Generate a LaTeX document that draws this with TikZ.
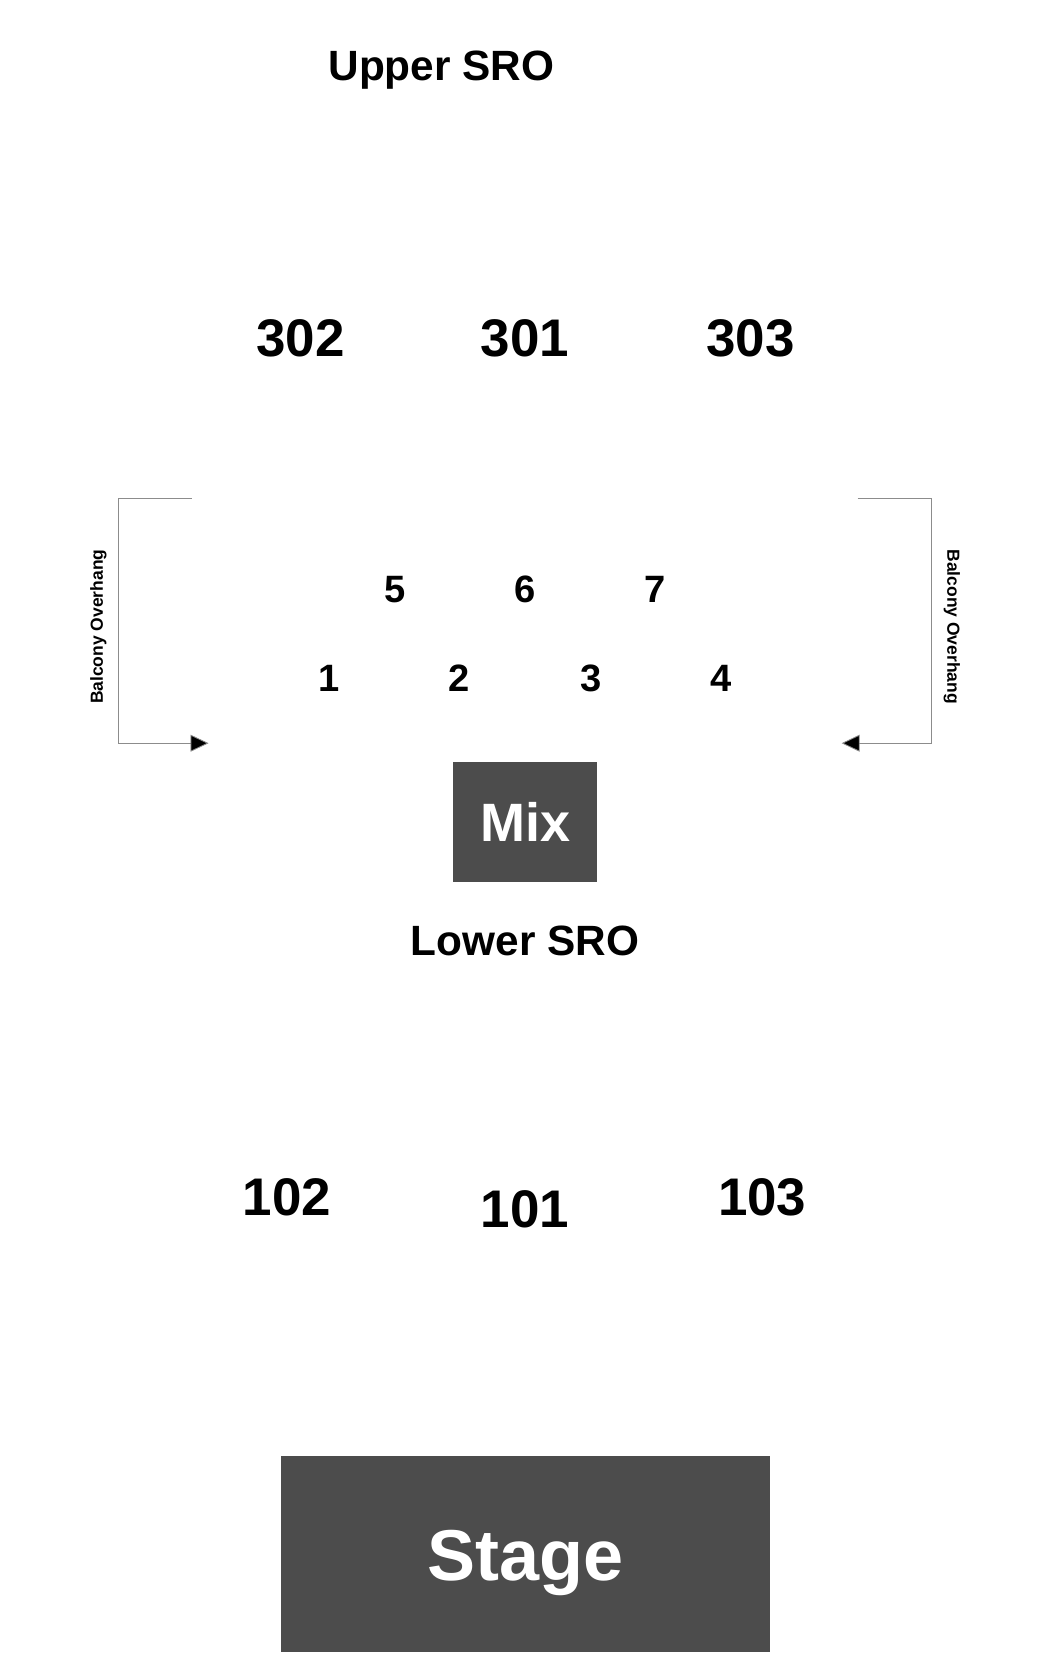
\documentclass[tikz,border=0pt]{standalone}
\usepackage{fontspec}
\setmainfont{Liberation Sans}
\usetikzlibrary{arrows.meta}
\begin{document}
\begin{tikzpicture}[x=1pt,y=-1pt,
  lbl/.style={font=\bfseries\fontsize{#1}{#1}\selectfont,inner sep=0},
  blk/.style={fill=black!70,draw=none},
  brk/.style={draw=black!45,line width=0.8pt,-{Triangle[length=17pt,width=16pt,fill=black]}}]
\useasboundingbox (0,0) rectangle (992,1568);
\node[lbl=40] (usro) at (417,66) {Upper SRO};
\node[lbl=50] (s302) at (284,320) {302};
\node[lbl=50] (s301) at (496,320) {301};
\node[lbl=50] (s303) at (709,320) {303};
\node[lbl=36] (t5) at (373,557) {5};
\node[lbl=36] (t6) at (496,557) {6};
\node[lbl=36] (t7) at (619,557) {7};
\node[lbl=36] (t1) at (311,641) {1};
\node[lbl=36] (t2) at (434,641) {2};
\node[lbl=36] (t3) at (558,641) {3};
\node[lbl=36] (t4) at (681,641) {4};
\node[blk,minimum width=136pt,minimum height=113pt,inner sep=0] (mix) at (496,776.5) {};
\node[lbl=51,text=white] at (mix) {Mix};
\node[lbl=40] (lsro) at (496,889) {Lower SRO};
\node[lbl=50] (s102) at (271,1131) {102};
\node[lbl=50] (s101) at (496,1142) {101};
\node[lbl=50] (s103) at (720,1131) {103};
\node[blk,minimum width=462pt,minimum height=185pt,inner sep=0] (stage) at (496,1467.5) {};
\node[lbl=68,text=white] at ([yshift=-9pt]stage.center) {Stage};
\coordinate (la) at (181,471); \coordinate (lb) at (112,471);
\coordinate (lc) at (112,702); \coordinate (ld) at (197,702);
\draw[brk] (la) -- (lb) -- (lc) -- (ld);
\coordinate (ra) at (810,471); \coordinate (rb) at (880,471);
\coordinate (rc) at (880,702); \coordinate (rd) at (795,702);
\draw[brk] (ra) -- (rb) -- (rc) -- (rd);
\node[lbl=16.5,rotate=90] (bl) at (93,592) {Balcony Overhang};
\node[lbl=16.5,rotate=-90] (br) at (899,592) {Balcony Overhang};
\end{tikzpicture}
\end{document}
